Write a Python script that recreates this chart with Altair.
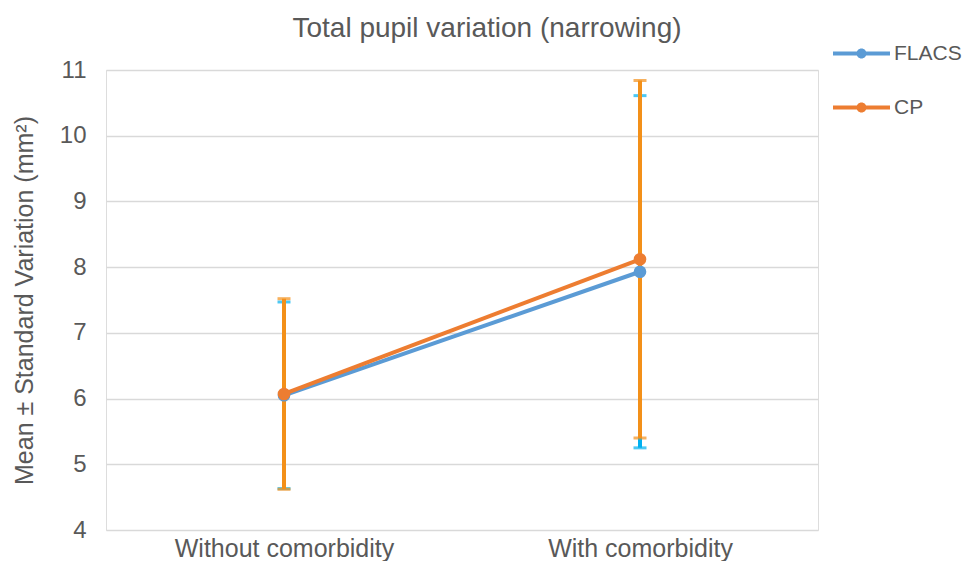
import altair as alt
import pandas as pd

categories = ["Without comorbidity", "With comorbidity"]
series = ["FLACS", "CP"]
flacs_mean = [6.05, 7.93]
flacs_sd = [1.42, 2.68]
cp_mean = [6.07, 8.12]
cp_sd = [1.45, 2.72]

line_colors = ["#5B9BD5", "#ED7D31"]
err_colors = ["#00B0F0", "#F39019"]

rows = []
for s, means, sds in [("FLACS", flacs_mean, flacs_sd), ("CP", cp_mean, cp_sd)]:
    for c, m, sd in zip(categories, means, sds):
        rows.append({"series": s, "category": c, "mean": m, "lo": m - sd, "hi": m + sd})
df = pd.DataFrame(rows)

FONT = "Liberation Sans"
GRAY = "#595959"

x_enc = alt.X("category:N", sort=categories, title=None,
              scale=alt.Scale(type="point", padding=0.5),
              axis=alt.Axis(labelAngle=0, labelFontSize=25, labelColor=GRAY, labelFont=FONT,
                            ticks=False, domain=False, labelPadding=6, grid=False,
                            labelLimit=500))
y_scale = alt.Scale(domain=[4, 11], nice=False, zero=False)
y_axis = alt.Axis(values=[4, 5, 6, 7, 8, 9, 10, 11], format="d", labelFontSize=24,
                  labelColor=GRAY, labelFont=FONT, ticks=False, domain=False, labelPadding=20,
                  gridColor="#D9D9D9", gridWidth=1.5,
                  title="Mean ± Standard Variation (mm²)", titleFontSize=25,
                  titleFont=FONT, titleColor=GRAY, titleFontWeight="normal", titlePadding=22)

color_scale = alt.Scale(domain=series, range=line_colors)

sym = ("M-1,-0.07 L1,-0.07 L1,0.07 L-1,0.07 Z "
       "M0.175,0 A0.175,0.175 0 1,1 -0.175,0 A0.175,0.175 0 1,1 0.175,0 Z")

base = alt.Chart(df)
layers = []
for s, ec in zip(series, err_colors):
    b = base.transform_filter(alt.datum.series == s)
    layers.append(b.mark_rule(color=ec, strokeWidth=4).encode(
        x=x_enc, y=alt.Y("lo:Q", scale=y_scale, axis=y_axis), y2="hi:Q"))
    layers.append(b.mark_tick(color=ec, thickness=3, size=13).encode(
        x=x_enc, y=alt.Y("lo:Q", scale=y_scale)))
    layers.append(b.mark_tick(color=ec, thickness=3, size=13).encode(
        x=x_enc, y=alt.Y("hi:Q", scale=y_scale)))

for s, lc in zip(series, line_colors):
    b = base.transform_filter(alt.datum.series == s)
    layers.append(b.mark_line(strokeWidth=4, color=lc).encode(
        x=x_enc, y=alt.Y("mean:Q", scale=y_scale)))
for s, lc in zip(series, line_colors):
    b = base.transform_filter(alt.datum.series == s)
    layers.append(b.mark_point(filled=True, size=160, opacity=1).encode(
        x=x_enc, y=alt.Y("mean:Q", scale=y_scale),
        color=alt.Color("series:N", scale=color_scale, sort=series, title=None,
                        legend=alt.Legend(orient="none", legendX=727, legendY=-45,
                                          symbolType=sym, symbolSize=3249,
                                          symbolStrokeWidth=0, symbolOpacity=1,
                                          labelFontSize=21, labelFont=FONT,
                                          labelColor=GRAY, rowPadding=15,
                                          labelOffset=4, labelLimit=300))))

chart = alt.layer(*layers).properties(
    width=712, height=460,
    title=alt.TitleParams("Total pupil variation (narrowing)", fontSize=28, font=FONT,
                          color=GRAY, fontWeight="normal", anchor="middle", frame="group",
                          baseline="alphabetic", dx=25, offset=-40),
    autosize=alt.AutoSizeParams(type="none"),
    padding={"left": 98, "top": 62, "right": 145, "bottom": 31},
).configure_view(stroke=None).configure(background="white")

chart.save("out.html", embed_options={"renderer": "svg", "actions": False})
